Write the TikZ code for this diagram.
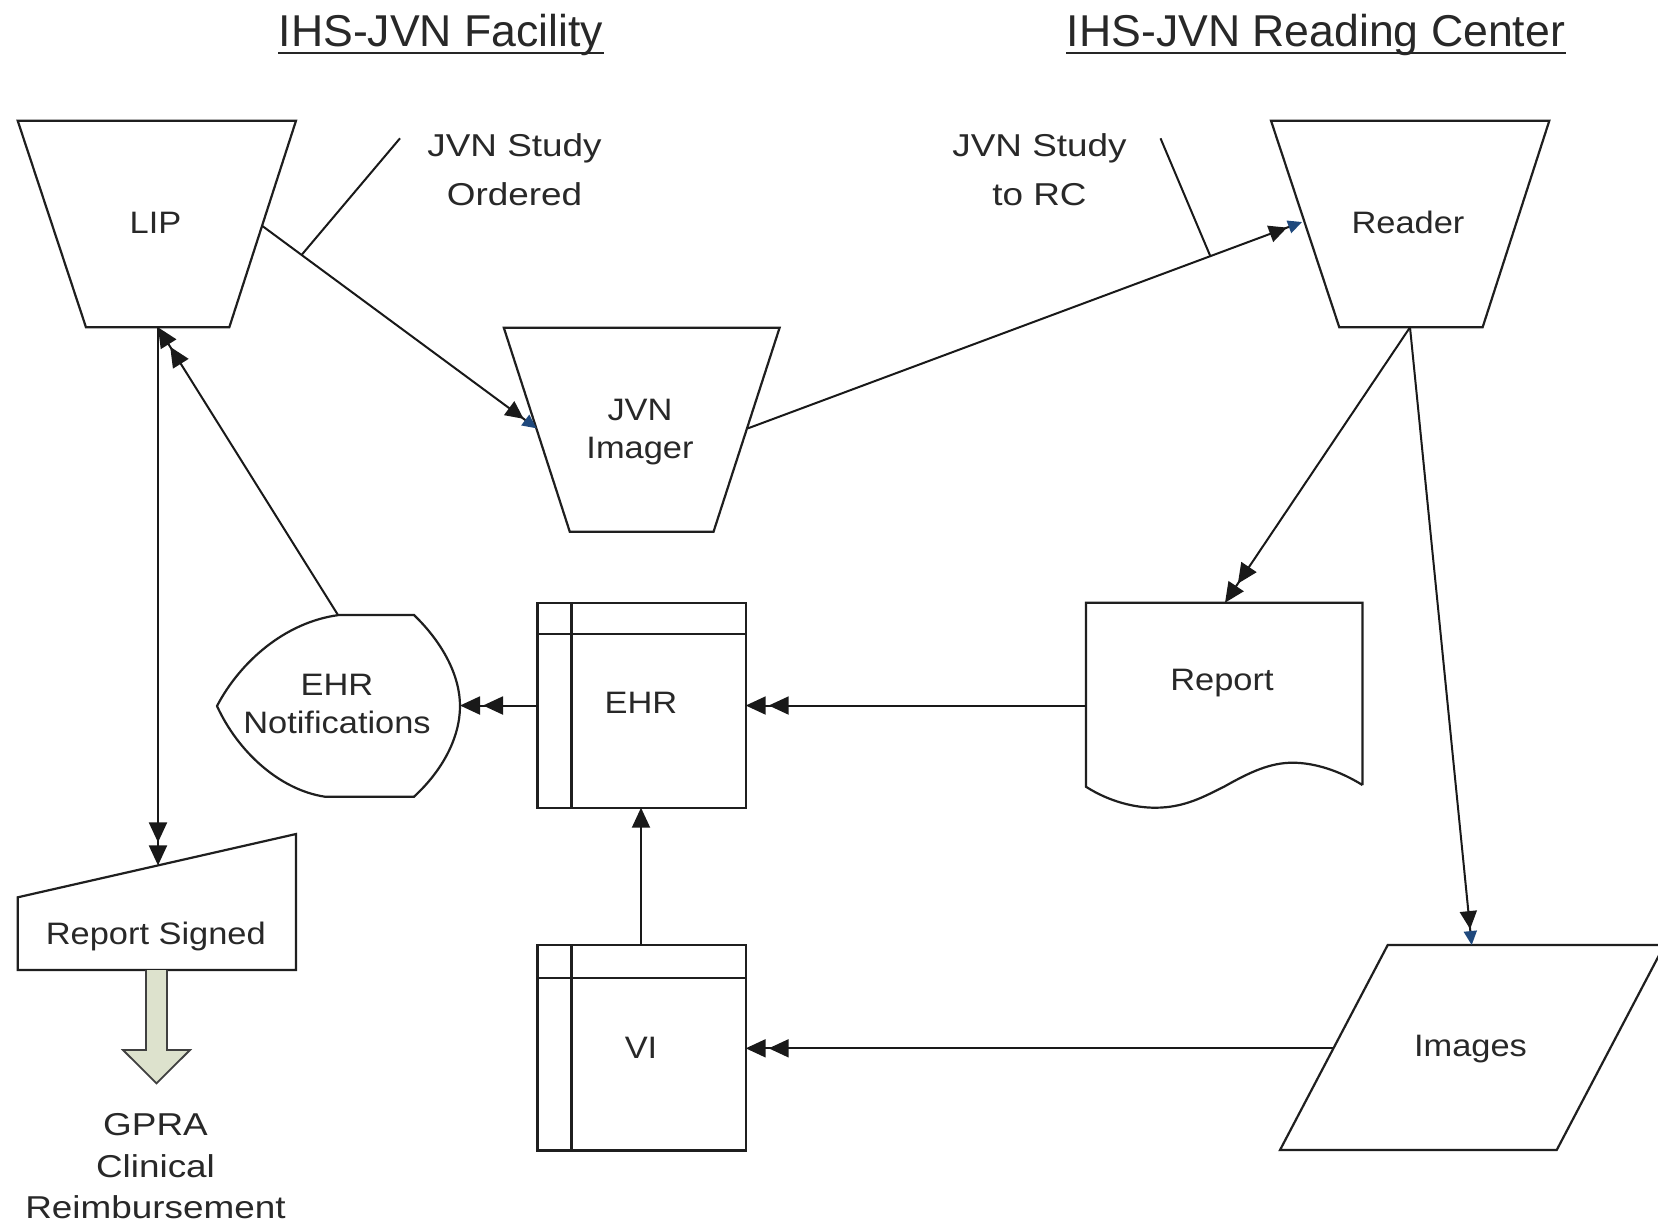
\documentclass[tikz,border=0pt]{standalone}
\usepackage{fontspec}
\setmainfont{Liberation Sans}
\usetikzlibrary{arrows.meta,calc}
\definecolor{tipblue}{RGB}{31,73,125}
\definecolor{blockfill}{RGB}{221,226,205}
\definecolor{txt}{RGB}{40,40,40}
\newcommand\bsx[1]{\scalebox{1.11}[1]{#1}}
\newcommand\wsx[1]{\scalebox{1.19}[1.02]{#1}}
\begin{document}
\begin{tikzpicture}[x=0.5pt,y=-0.5pt,
  shp/.style={draw=black!88, line width=1.1pt, line join=miter},
  con/.style={draw=black!90, line width=1pt},
  lbl/.style={inner sep=0pt, anchor=base, font=\fontsize{15.5}{18}\selectfont, text=txt},
  ttl/.style={inner sep=0pt, anchor=base, font=\fontsize{22.3}{26}\selectfont, text=txt},
  dbl/.style={-{Triangle[length=10pt,width=9pt,sep=1.5pt] Triangle[length=10pt,width=9pt]}},
  blt/.style={-{Triangle[length=9pt,width=8.5pt,sep=1pt] Triangle[length=7pt,width=6.5pt,color=tipblue]}},
  sgl/.style={-{Triangle[length=10pt,width=9pt]}}
]
\useasboundingbox (0,0) rectangle (1658,1223);
\fill[white] (0,0) rectangle (1658,1223);

% ---------- titles ----------
\node[ttl] (t1) at (441,46.3) {IHS-JVN Facility};
\node[ttl] (t2) at (1316,46.3) {IHS-JVN Reading Center};
\draw[line width=1pt, black!85] ([yshift=-3.2pt]t1.base west) -- ([yshift=-3.2pt]t1.base east);
\draw[line width=1pt, black!85] ([yshift=-3.2pt]t2.base west) -- ([yshift=-3.2pt]t2.base east);

% ---------- shapes ----------
% LIP (manual operation)
\draw[shp] (17.7,120.7) -- (296,120.7) -- (229.3,327.3) -- (86,327.3) -- cycle;
\node[lbl] (lip) at (155.5,233.3) {\bsx{LIP}};
% JVN Imager
\draw[shp] (503.8,327.7) -- (779.6,327.7) -- (713.5,531.8) -- (569.8,531.8) -- cycle;
\node[lbl] (img1) at (640,420) {\bsx{JVN}};
\node[lbl] (img2) at (640,458.3) {\bsx{Imager}};
% Reader
\draw[shp] (1271,120.7) -- (1549.3,120.7) -- (1482.6,327.3) -- (1339.3,327.3) -- cycle;
\node[lbl] (rdr) at (1408,233.3) {\bsx{Reader}};
% Report (document)
\draw[shp] (1362.4,785) -- (1362.4,602.7) -- (1085.9,602.7) -- (1085.9,786.7)
  .. controls (1110,802) and (1135,807.7) .. (1155.3,807.7)
  .. controls (1185,807.7) and (1205,796) .. (1224,786.7)
  .. controls (1250,772) and (1270,762.7) .. (1292.6,762.7)
  .. controls (1315,762.7) and (1340,771) .. (1362.4,785);
\node[lbl] (rep) at (1222,690) {\bsx{Report}};
% EHR (internal storage)
\draw[shp] (537.5,602.7) rectangle (745.7,807.7);
\draw[shp] (571.4,602.7) -- (571.4,807.7);
\draw[shp] (537.5,634) -- (745.7,634);
\node[lbl] (ehr) at (641,713.3) {\bsx{EHR}};
% VI (internal storage)
\draw[shp] (537.5,945.3) rectangle (745.7,1150.4);
\draw[shp] (571.4,945.3) -- (571.4,1150.4);
\draw[shp] (537.5,978) -- (745.7,978);
\node[lbl] (vi) at (641,1058) {\bsx{VI}};
% Images (data)
\draw[shp] (1387.7,945) -- (1664.4,945) -- (1556.7,1150) -- (1280,1150) -- cycle;
\node[lbl] (ims) at (1470.5,1056.7) {\bsx{Images}};
% EHR Notifications (display)
\draw[shp] (339,615) -- (414,615)
  .. controls (443,643) and (460,676) .. (460,706)
  .. controls (460,737) and (443,770) .. (414,796.7)
  -- (325,796.7)
  .. controls (280,790) and (238,752) .. (217,706)
  .. controls (240,662) and (285,622) .. (339,615) -- cycle;
\node[lbl] (not1) at (337,695) {\bsx{EHR}};
\node[lbl] (not2) at (337,733.3) {\bsx{Notifications}};
% Report Signed (manual input)
\draw[shp] (17.7,897.3) -- (296,834) -- (296,970) -- (17.7,970) -- cycle;
\node[lbl] (sig) at (155.8,944) {\bsx{Report Signed}};
% block arrow
\draw[draw=black!75, fill=blockfill, line width=0.9pt, line join=miter]
  (146,970) -- (146,1050) -- (123,1050) -- (156.5,1083.3) -- (190,1050) -- (167,1050) -- (167,970);
\node[lbl] (g1) at (155.5,1135) {\wsx{GPRA}};
\node[lbl] (g2) at (155.5,1177.5) {\wsx{Clinical}};
\node[lbl] (g3) at (155.5,1218) {\wsx{Reimbursement}};
% connector labels
\node[lbl] (o1) at (514.5,156) {\wsx{JVN Study}};
\node[lbl] (o2) at (514.5,205) {\wsx{Ordered}};
\node[lbl] (r1) at (1039.5,156) {\wsx{JVN Study}};
\node[lbl] (r2) at (1039.5,205) {\wsx{to RC}};

% ---------- attachment points ----------
\coordinate (lipR) at (262.4,226);
\coordinate (lipB) at (158,327.3);
\coordinate (imgL) at (536.5,428.3);
\coordinate (imgR) at (748,428.3);
\coordinate (rdrL) at (1302,222);
\coordinate (rdrB) at (1410,327.3);
\coordinate (repT) at (1225,602.7);
\coordinate (repL) at (1085.9,705.5);
\coordinate (imsT) at (1471.7,945);
\coordinate (imsL) at (1333.4,1048.3);
\coordinate (ehrR) at (745.7,705.5);
\coordinate (ehrL) at (537.5,705.5);
\coordinate (ehrB) at (641,807.7);
\coordinate (viT) at (641,945.3);
\coordinate (viR) at (745.7,1048.3);
\coordinate (notR) at (460,705.5);
\coordinate (notT) at (338,615);
\coordinate (sigT) at (158,865.4);
\coordinate (coLend) at (400,138.3);
\coordinate (coRend) at (1160.5,138.3);

% ---------- connectors ----------
\draw[con, blt] (lipR) -- (imgL);
\draw[con] ($(lipR)!0.143!(imgL)$) -- (coLend);
\draw[con, blt] (imgR) -- (rdrL);
\draw[con] ($(imgR)!0.8345!(rdrL)$) -- (coRend);
\draw[con, dbl] (rdrB) -- (repT);
\draw[con, blt] (rdrB) -- (imsT);
\draw[con, dbl] (repL) -- (ehrR);
\draw[con, dbl] (ehrL) -- (notR);
\draw[con, dbl] (notT) -- (lipB);
\draw[con, dbl] (lipB) -- (sigT);
\draw[con, sgl] (viT) -- (ehrB);
\draw[con, dbl] (imsL) -- (viR);
\end{tikzpicture}
\end{document}
